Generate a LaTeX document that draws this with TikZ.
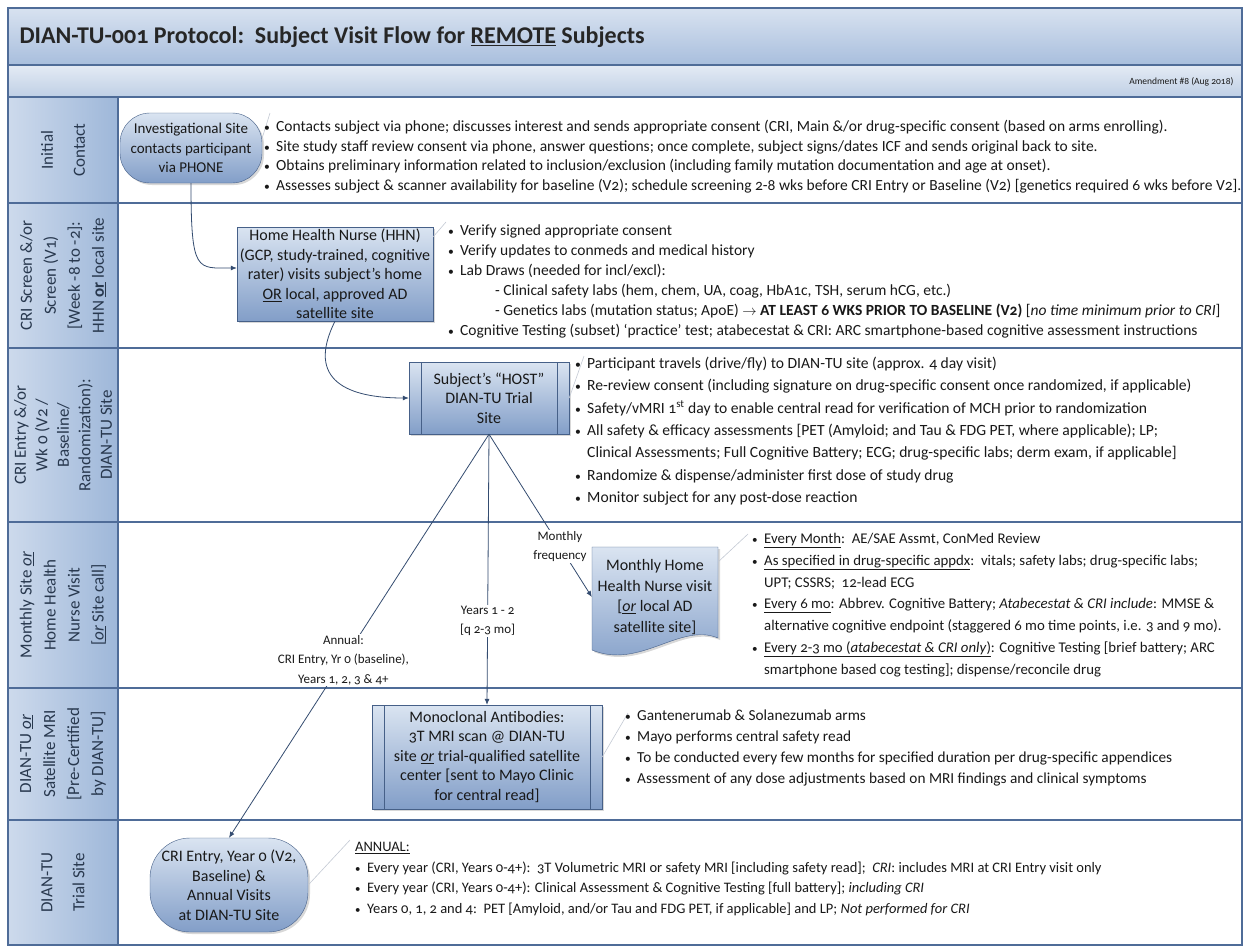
\documentclass[tikz,border=0pt]{standalone}
\usepackage{fontspec}
\setmainfont{Carlito}[Numbers=OldStyle]
\usepackage{graphicx}
\usepackage{tikz}
\usetikzlibrary{positioning}
\usetikzlibrary{arrows.meta}
\usetikzlibrary{shadows}
\usepackage{xcolor}

\definecolor{lanecol}{RGB}{79,108,152}
\definecolor{headleft}{RGB}{205,218,236}
\definecolor{headright}{RGB}{158,183,217}
\definecolor{bartop}{RGB}{216,226,240}
\definecolor{barbot}{RGB}{168,190,221}
\definecolor{subtop}{RGB}{228,235,245}
\definecolor{subbot}{RGB}{191,207,229}
\definecolor{boxtop}{RGB}{218,228,241}
\definecolor{boxbot}{RGB}{130,158,200}
\definecolor{boxline}{RGB}{70,96,136}
\definecolor{linkcol}{RGB}{52,76,112}
\definecolor{headtxt}{RGB}{40,56,78}
\definecolor{notecol}{RGB}{196,202,212}
\definecolor{bodytxt}{RGB}{25,25,25}

\newcommand{\bul}{\makebox[12pt][l]{\scalebox{0.75}{\textbullet}}}
\newcommand{\ind}{\hspace*{12pt}}

\begin{document}
\begin{tikzpicture}[x=1pt,y=-1pt,
  lanehead/.style={rotate=90, align=center, text=headtxt, font=\fontsize{17}{24}\selectfont},
  flowbox/.style={draw=boxline, top color=boxtop, bottom color=boxbot, align=center,
    text=bodytxt, font=\fontsize{16}{19.5}\selectfont, inner sep=2pt,
    drop shadow={shadow xshift=2pt, shadow yshift=-2pt, opacity=0.3}},
  terminal/.style={flowbox, rounded corners=30pt},
  process/.style={flowbox, path picture={
      \draw[boxline] ([xshift=12pt]path picture bounding box.north west) -- ([xshift=12pt]path picture bounding box.south west);
      \draw[boxline] ([xshift=-12pt]path picture bounding box.north east) -- ([xshift=-12pt]path picture bounding box.south east);}},
  notes/.style={anchor=north west, align=left, inner sep=0pt, text=bodytxt},
  link/.style={draw=linkcol, line width=0.8pt, -{Latex[length=6pt,width=5pt]}},
  linklabel/.style={fill=white, inner sep=1pt, align=center, text=bodytxt, font=\fontsize{13}{19.5}\selectfont},
  callout/.style={draw=notecol, line width=0.6pt}]

\useasboundingbox (0,0) rectangle (1246,948);
\fill[white] (0,0) rectangle (1246,948);

% title and amendment bars
\shade[top color=bartop, bottom color=barbot] (8,8) rectangle (1242,65);
\shade[top color=subtop, bottom color=subbot] (8,65) rectangle (1242,97);
\shade[left color=headleft, right color=headright] (8,97) rectangle (118,945);
\node[anchor=west, font=\fontsize{24}{27}\selectfont\bfseries, text=black!85] (title) at (16,37)
  {DIAN-TU-001 Protocol:\ \ Subject Visit Flow for \underline{REMOTE} Subjects};
\node[anchor=east, font=\fontsize{9.5}{12}\selectfont, text=bodytxt] (amend) at (1237,82) {Amendment \#8 (Aug 2018)};

% lanes
\foreach \y in {65,97,203,348,522,688,820}
  \draw[lanecol, line width=1.4pt] (8,\y) -- (1242,\y);
\draw[lanecol, line width=1.4pt] (118,97) -- (118,945);
\draw[lanecol, line width=1.4pt] (8,8) rectangle (1242,945);

\node[lanehead, font=\fontsize{17}{32}\selectfont] (hinit) at (63,150) {Initial\\Contact};
\node[lanehead] (hscreen) at (63,275.5) {CRI Screen \&/or\\Screen (V1)\\{}[Week -8 to -2]:\\HHN \underline{\textbf{or}} local site};
\node[lanehead, font=\fontsize{17}{21.5}\selectfont] (hentry) at (63,435) {CRI Entry \&/or\\Wk 0 (V2 /\\Baseline/\\Randomization):\\DIAN-TU Site};
\node[lanehead] (hmonth) at (63,605) {Monthly Site \underline{\textit{or}}\\Home Health\\Nurse Visit\\{}[\underline{\textit{or}} Site call]};
\node[lanehead] (hmri) at (63,754) {DIAN-TU \underline{\textit{or}}\\Satellite MRI\\{}[Pre-Certified\\by DIAN-TU]};
\node[lanehead, font=\fontsize{17}{32}\selectfont] (htrial) at (63,882.5) {DIAN-TU\\Trial Site};

% monthly visit (document shape)
\shade[draw=boxline, top color=boxtop, bottom color=boxbot,
  drop shadow={shadow xshift=2pt, shadow yshift=-2pt, opacity=0.3}]
  (592,547) -- (718,547) -- (718,638) .. controls (680,622) and (640,670) .. (592,650) -- cycle;

% flow shapes
\node[terminal, minimum width=142pt, minimum height=70pt, font=\fontsize{15}{19.5}\selectfont] (inv) at (191,148) {Investigational Site\\contacts participant\\via PHONE};
\node[flowbox, minimum width=196pt, minimum height=94pt] (hhn) at (335,274) {Home Health Nurse (HHN)\\(GCP, study-trained, cognitive\\rater) visits subject’s home\\\underline{OR} local, approved AD\\satellite site};
\node[process, minimum width=160pt, minimum height=72pt] (host) at (489,398) {Subject’s “HOST”\\DIAN-TU Trial\\Site};
\node[align=center, text=bodytxt, font=\fontsize{16}{20.5}\selectfont, minimum width=126pt, minimum height=100pt] (monthly) at (655,597) {Monthly Home\\Health Nurse visit\\{}[\underline{\textit{or}} local AD\\satellite site]};
\node[process, minimum width=230pt, minimum height=104pt] (mono) at (487,757) {Monoclonal Antibodies:\\3T MRI scan @ DIAN-TU\\site \underline{\textit{or}} trial-qualified satellite\\center [sent to Mayo Clinic\\for central read]};
\node[terminal, rounded corners=40pt, minimum width=158pt, minimum height=94pt] (cri) at (229,885) {CRI Entry, Year 0 (V2,\\Baseline) \&\\Annual Visits\\at DIAN-TU Site};

% connectors
\draw[link] (inv.south) .. controls +(0,90) and +(-40,0) .. ([yshift=6pt]hhn.west);
\draw[link] (hhn.south) .. controls +(-30,60) and +(-60,0) .. (host.west);
\draw[link] (host.south) -- node[linklabel, pos=0.56] {Annual:\\CRI Entry, Yr 0 (baseline),\\Years 1, 2, 3 \& 4+} (cri.north);
\draw[link] (host.south) -- node[linklabel, pos=0.69] {Years 1 - 2\\{}[q 2-3 mo]} (mono.north);
\draw[link] (host.south) -- node[linklabel, pos=0.69] {Monthly\\frequency} (monthly.west);

% annotation ticks
\coordinate (ninit) at (270,113);
\coordinate (nscreen) at (446,222);
\coordinate (nentry) at (584,356);
\coordinate (nmonth) at (748,534);
\coordinate (nmri) at (628,713);
\coordinate (ntrial) at (350,840);
\draw[callout] ([yshift=10pt]inv.east) -- (ninit);
\draw[callout] ([yshift=-10pt]hhn.north east) -- (nscreen);
\draw[callout] (host.east) -- (nentry);
\draw[callout] ([yshift=-15pt]monthly.north east) -- (nmonth);
\draw[callout] (mono.east) -- (nmri);
\draw[callout] (cri.east) -- (ntrial);

% notes
\node[notes, font=\fontsize{15.5}{19.6}\selectfont] (initnotes) at (264,120) {%
\bul Contacts subject via phone; discusses interest and sends appropriate consent (CRI, Main \&/or drug-specific consent (based on arms enrolling).\\
\bul Site study staff review consent via phone, answer questions; once complete, subject signs/dates ICF and sends original back to site.\\
\bul Obtains preliminary information related to inclusion/exclusion (including family mutation documentation and age at onset).\\
\bul Assesses subject \& scanner availability for baseline (V2); schedule screening 2-8 wks before CRI Entry or Baseline (V2) [genetics required 6 wks before V2].};

\node[notes, font=\fontsize{15.5}{20}\selectfont] (screennotes) at (448,225) {%
\bul Verify signed appropriate consent\\
\bul Verify updates to conmeds and medical history\\
\bul Lab Draws (needed for incl/excl):\\
\hspace*{47pt}- Clinical safety labs (hem, chem, UA, coag, HbA1c, TSH, serum hCG, etc.)\\
\hspace*{47pt}- Genetics labs (mutation status; ApoE) $\rightarrow$ \textbf{AT LEAST 6 WKS PRIOR TO BASELINE (V2)} [\textit{no time minimum prior to CRI}]\\
\bul Cognitive Testing (subset) ‘practice’ test; atabecestat \& CRI: ARC smartphone-based cognitive assessment instructions};

\node[notes, font=\fontsize{15.6}{22.3}\selectfont] (hostnotes) at (575,357) {%
\bul Participant travels (drive/fly) to DIAN-TU site (approx. 4 day visit)\\
\bul Re-review consent (including signature on drug-specific consent once randomized, if applicable)\\
\bul Safety/vMRI 1\textsuperscript{st} day to enable central read for verification of MCH prior to randomization\\
\bul All safety \& efficacy assessments [PET (Amyloid; and Tau \& FDG PET, where applicable); LP;\\
\ind Clinical Assessments; Full Cognitive Battery; ECG; drug-specific labs; derm exam, if applicable]\\
\bul Randomize \& dispense/administer first dose of study drug\\
\bul Monitor subject for any post-dose reaction};

\node[notes, font=\fontsize{14.8}{21.8}\selectfont] (monthnotes) at (752,533) {%
\bul \underline{Every Month}:\ \ AE/SAE Assmt, ConMed Review\\
\bul \underline{As specified in drug-specific appdx}:\ \ vitals; safety labs; drug-specific labs;\\
\ind UPT; CSSRS;\ \ 12-lead ECG\\
\bul \underline{Every 6 mo}: Abbrev. Cognitive Battery; \textit{Atabecestat \& CRI include}: MMSE \&\\
\ind alternative cognitive endpoint (staggered 6 mo time points, i.e. 3 and 9 mo).\\
\bul \underline{Every 2-3 mo (\textit{atabecestat \& CRI only})}: Cognitive Testing [brief battery; ARC\\
\ind smartphone based cog testing]; dispense/reconcile drug};

\node[notes, font=\fontsize{15.3}{21}\selectfont] (mrinotes) at (625,710) {%
\bul Gantenerumab \& Solanezumab arms\\
\bul Mayo performs central safety read\\
\bul To be conducted every few months for specified duration per drug-specific appendices\\
\bul Assessment of any dose adjustments based on MRI findings and clinical symptoms};

\node[notes, font=\fontsize{14.5}{20.7}\selectfont] (trialnotes) at (355,842) {%
\underline{ANNUAL:}\\
\bul Every year (CRI, Years 0-4+):\ \ 3T Volumetric MRI or safety MRI [including safety read];\ \ \textit{CRI}: includes MRI at CRI Entry visit only\\
\bul Every year (CRI, Years 0-4+): Clinical Assessment \& Cognitive Testing [full battery]; \textit{including CRI}\\
\bul Years 0, 1, 2 and 4:\ \ PET [Amyloid, and/or Tau and FDG PET, if applicable] and LP; \textit{Not performed for CRI}};

\end{tikzpicture}
\end{document}
